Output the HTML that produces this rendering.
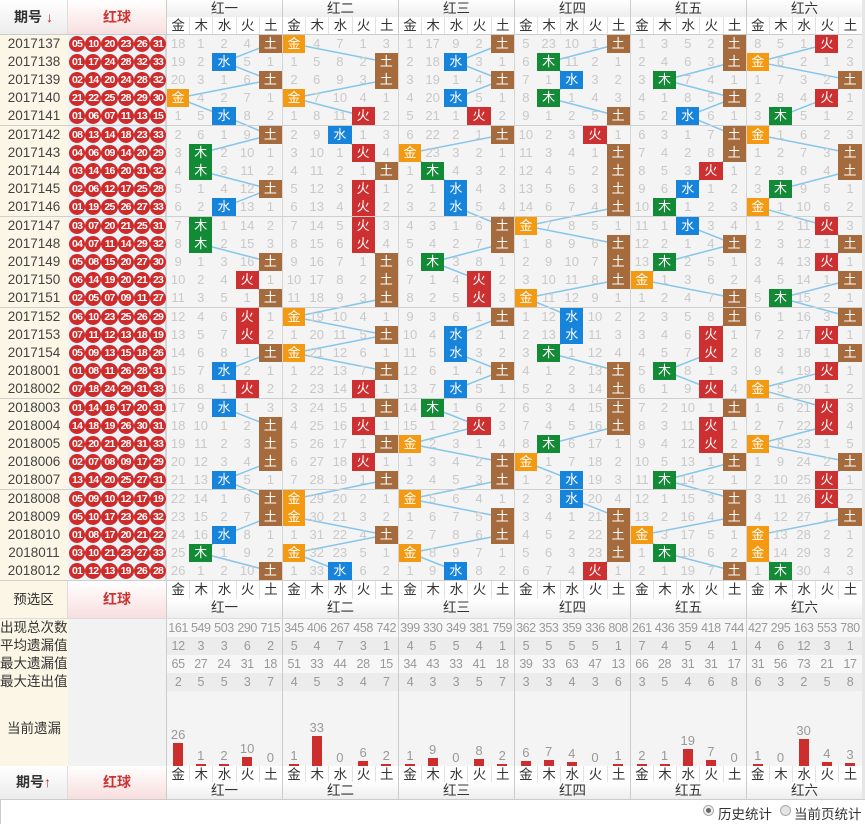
<!DOCTYPE html>
<html><head><meta charset="utf-8"><style>
body{margin:0;width:865px;height:824px;position:relative;background:#fff;font-family:"Liberation Sans","Noto Sans CJK SC",sans-serif;overflow:hidden}
.A{position:absolute}
.r{position:absolute;left:0;height:18px;display:flex;z-index:2}
.n{width:68px;flex:none;text-align:center;font-size:13.5px;color:#444;line-height:18px}
.q{width:98px;flex:none;display:flex;padding-left:1px;box-sizing:border-box}
.q u{width:16.2px;height:16px;margin-top:1px;border-radius:50%;background:#cf2b2b;color:#fff;font-size:10.5px;font-weight:bold;line-height:16px;text-align:center;text-decoration:none;letter-spacing:-0.8px;flex:none;overflow:hidden}
.r i,.r b{width:23.2px;flex:none;height:18px;line-height:18px;text-align:center;font-style:normal;font-weight:normal;font-size:13px;color:#c9c9c9;box-sizing:border-box}
.r b{color:#fff}
.a{background:#f39a12}.b{background:#138a36}.c{background:#1784db}.d{background:#cc3030}.e{background:#a56b3d}
.r>:nth-child(5n+3){border-left:1px solid #d5d5d5}
.s{position:absolute;left:166px;display:flex;height:18px}
.s i{width:23.2px;flex:none;font-style:normal;text-align:center;font-size:13.5px;color:#333;line-height:18px;border-left:1px solid #e2e2e2;box-sizing:border-box;background:#fff}
.s i:nth-child(5n+1){border-left:1px solid #ccc}
.g{position:absolute;left:166px;display:flex;height:18px}
.g i{width:116px;flex:none;font-style:normal;text-align:center;font-size:13.5px;color:#333;line-height:18px;border-left:1px solid #ccc;box-sizing:border-box;background:linear-gradient(#fff,#eeeeee)}
.t{position:absolute;left:166px;display:flex;height:18px}
.t i{width:23.2px;flex:none;font-style:normal;text-align:center;font-size:12.5px;letter-spacing:-0.4px;color:#999;line-height:18px}
.t i:nth-child(5n+1){border-left:1px solid #ccc;box-sizing:border-box}
.lab{position:absolute;left:0;width:68px;font-size:13.5px;color:#333;line-height:18px;background:#fbf6e6}
.bars{position:absolute;left:166px;top:690px;height:76px;display:flex}
.bars div{width:23.2px;flex:none;display:flex;flex-direction:column;justify-content:flex-end;align-items:center;font-size:13px;color:#999;box-sizing:border-box}
.bars div:nth-child(5n+1){border-left:1px solid #ccc}
.bars s{display:block;width:10px;background:#cc2e2e;margin-top:1px}
.sep{position:absolute;left:0;width:862px;height:1px;background:#cfcfcf;z-index:3}
</style></head><body>
<!-- backgrounds -->
<div class="A" style="left:0;top:35px;width:68px;height:545px;background:#fbf6e6"></div>
<div class="A" style="left:68px;top:35px;width:98px;height:545px;background:#edf2f6;border-right:1px solid #d5d5d5;box-sizing:border-box"></div>
<div class="A" style="left:166px;top:35px;width:699px;height:545px;background:#f4f4f4"></div>
<div class="A" style="left:862px;top:0;width:3px;height:800px;background:#e6e6e6"></div>

<!-- header -->
<div class="A" style="left:0;top:0;width:68px;height:35px;background:linear-gradient(#fff,#ececec);border-right:1px solid #ddd;box-sizing:border-box;text-align:center;line-height:35px;font-size:14px;font-weight:bold;color:#333">期号 <span style="color:#d22">↓</span></div>
<div class="A" style="left:68px;top:0;width:98px;height:35px;background:linear-gradient(#fff,#f8dede);text-align:center;line-height:35px;font-size:14px;font-weight:bold;color:#c33">红球</div>
<div class="g" style="top:0;height:17px"><i>红一</i><i>红二</i><i>红三</i><i>红四</i><i>红五</i><i>红六</i></div>
<div class="s" style="top:17px"><i>金</i><i>木</i><i>水</i><i>火</i><i>土</i><i>金</i><i>木</i><i>水</i><i>火</i><i>土</i><i>金</i><i>木</i><i>水</i><i>火</i><i>土</i><i>金</i><i>木</i><i>水</i><i>火</i><i>土</i><i>金</i><i>木</i><i>水</i><i>火</i><i>土</i><i>金</i><i>木</i><i>水</i><i>火</i><i>土</i></div>
<div class="sep" style="top:34px;background:#ccc"></div>

<!-- lines -->
<svg class="A" style="left:0;top:0;z-index:1" width="865" height="824">
<g fill="none" stroke="#86c6ea" stroke-width="1.5">
<polyline transform="translate(166,0)" points="104,44 58,62 104,80 12,98 58,116 104,135 35,153 35,171 104,189 58,207 35,226 35,244 104,262 81,280 104,298 81,317 81,335 104,353 58,371 81,389 58,408 104,426 104,444 104,462 58,480 104,499 104,517 58,535 35,553 104,571"/>
<polyline transform="translate(282,0)" points="12,44 104,62 104,80 12,98 81,116 58,135 81,153 104,171 81,189 81,207 81,226 81,244 104,262 104,280 104,298 12,317 104,335 12,353 104,371 81,389 104,408 81,426 104,444 81,462 104,480 12,499 12,517 104,535 12,553 58,571"/>
<polyline transform="translate(398,0)" points="104,44 58,62 104,80 58,98 81,116 104,135 12,153 35,171 58,189 58,207 104,226 104,244 35,262 81,280 81,298 104,317 58,335 58,353 104,371 58,389 35,408 81,426 12,444 104,462 104,480 12,499 104,517 104,535 12,553 58,571"/>
<polyline transform="translate(514,0)" points="104,44 35,62 58,80 35,98 104,116 81,135 104,153 104,171 104,189 104,207 12,226 104,244 104,262 104,280 12,298 58,317 58,335 35,353 104,371 104,389 104,408 104,426 35,444 12,462 58,480 58,499 104,517 104,535 104,553 81,571"/>
<polyline transform="translate(630,0)" points="104,44 104,62 35,80 104,98 58,116 104,135 104,153 81,171 58,189 35,207 58,226 104,244 35,262 12,280 104,298 104,317 81,335 81,353 35,371 81,389 104,408 81,426 81,444 104,462 35,480 104,499 104,517 12,535 35,553 104,571"/>
<polyline transform="translate(746,0)" points="81,44 12,62 104,80 81,98 35,116 12,135 104,153 104,171 35,189 12,207 81,226 104,244 81,262 104,280 35,298 104,317 81,335 104,353 81,371 12,389 81,408 81,426 12,444 104,462 81,480 81,499 104,517 12,535 12,553 35,571"/>
</g></svg>

<!-- rows -->
<div class="r" style="top:35px"><div class="n">2017137</div><div class="q"><u>05</u><u>10</u><u>20</u><u>23</u><u>26</u><u>31</u></div><i>18</i><i>1</i><i>2</i><i>4</i><b class="e">土</b><b class="a">金</b><i>4</i><i>7</i><i>1</i><i>3</i><i>1</i><i>17</i><i>9</i><i>2</i><b class="e">土</b><i>5</i><i>23</i><i>10</i><i>1</i><b class="e">土</b><i>1</i><i>3</i><i>5</i><i>2</i><b class="e">土</b><i>8</i><i>5</i><i>1</i><b class="d">火</b><i>2</i></div>
<div class="r" style="top:53px"><div class="n">2017138</div><div class="q"><u>01</u><u>17</u><u>24</u><u>28</u><u>32</u><u>33</u></div><i>19</i><i>2</i><b class="c">水</b><i>5</i><i>1</i><i>1</i><i>5</i><i>8</i><i>2</i><b class="e">土</b><i>2</i><i>18</i><b class="c">水</b><i>3</i><i>1</i><i>6</i><b class="b">木</b><i>11</i><i>2</i><i>1</i><i>2</i><i>4</i><i>6</i><i>3</i><b class="e">土</b><b class="a">金</b><i>6</i><i>2</i><i>1</i><i>3</i></div>
<div class="r" style="top:71px"><div class="n">2017139</div><div class="q"><u>02</u><u>14</u><u>20</u><u>24</u><u>28</u><u>32</u></div><i>20</i><i>3</i><i>1</i><i>6</i><b class="e">土</b><i>2</i><i>6</i><i>9</i><i>3</i><b class="e">土</b><i>3</i><i>19</i><i>1</i><i>4</i><b class="e">土</b><i>7</i><i>1</i><b class="c">水</b><i>3</i><i>2</i><i>3</i><b class="b">木</b><i>7</i><i>4</i><i>1</i><i>1</i><i>7</i><i>3</i><i>2</i><b class="e">土</b></div>
<div class="r" style="top:89px"><div class="n">2017140</div><div class="q"><u>21</u><u>22</u><u>25</u><u>28</u><u>29</u><u>30</u></div><b class="a">金</b><i>4</i><i>2</i><i>7</i><i>1</i><b class="a">金</b><i>7</i><i>10</i><i>4</i><i>1</i><i>4</i><i>20</i><b class="c">水</b><i>5</i><i>1</i><i>8</i><b class="b">木</b><i>1</i><i>4</i><i>3</i><i>4</i><i>1</i><i>8</i><i>5</i><b class="e">土</b><i>2</i><i>8</i><i>4</i><b class="d">火</b><i>1</i></div>
<div class="r" style="top:107px"><div class="n">2017141</div><div class="q"><u>01</u><u>06</u><u>07</u><u>11</u><u>13</u><u>15</u></div><i>1</i><i>5</i><b class="c">水</b><i>8</i><i>2</i><i>1</i><i>8</i><i>11</i><b class="d">火</b><i>2</i><i>5</i><i>21</i><i>1</i><b class="d">火</b><i>2</i><i>9</i><i>1</i><i>2</i><i>5</i><b class="e">土</b><i>5</i><i>2</i><b class="c">水</b><i>6</i><i>1</i><i>3</i><b class="b">木</b><i>5</i><i>1</i><i>2</i></div>
<div class="sep" style="top:125px"></div>
<div class="r" style="top:126px"><div class="n">2017142</div><div class="q"><u>08</u><u>13</u><u>14</u><u>18</u><u>23</u><u>33</u></div><i>2</i><i>6</i><i>1</i><i>9</i><b class="e">土</b><i>2</i><i>9</i><b class="c">水</b><i>1</i><i>3</i><i>6</i><i>22</i><i>2</i><i>1</i><b class="e">土</b><i>10</i><i>2</i><i>3</i><b class="d">火</b><i>1</i><i>6</i><i>3</i><i>1</i><i>7</i><b class="e">土</b><b class="a">金</b><i>1</i><i>6</i><i>2</i><i>3</i></div>
<div class="r" style="top:144px"><div class="n">2017143</div><div class="q"><u>04</u><u>06</u><u>09</u><u>14</u><u>20</u><u>29</u></div><i>3</i><b class="b">木</b><i>2</i><i>10</i><i>1</i><i>3</i><i>10</i><i>1</i><b class="d">火</b><i>4</i><b class="a">金</b><i>23</i><i>3</i><i>2</i><i>1</i><i>11</i><i>3</i><i>4</i><i>1</i><b class="e">土</b><i>7</i><i>4</i><i>2</i><i>8</i><b class="e">土</b><i>1</i><i>2</i><i>7</i><i>3</i><b class="e">土</b></div>
<div class="r" style="top:162px"><div class="n">2017144</div><div class="q"><u>03</u><u>14</u><u>16</u><u>20</u><u>31</u><u>32</u></div><i>4</i><b class="b">木</b><i>3</i><i>11</i><i>2</i><i>4</i><i>11</i><i>2</i><i>1</i><b class="e">土</b><i>1</i><b class="b">木</b><i>4</i><i>3</i><i>2</i><i>12</i><i>4</i><i>5</i><i>2</i><b class="e">土</b><i>8</i><i>5</i><i>3</i><b class="d">火</b><i>1</i><i>2</i><i>3</i><i>8</i><i>4</i><b class="e">土</b></div>
<div class="r" style="top:180px"><div class="n">2017145</div><div class="q"><u>02</u><u>06</u><u>12</u><u>17</u><u>25</u><u>28</u></div><i>5</i><i>1</i><i>4</i><i>12</i><b class="e">土</b><i>5</i><i>12</i><i>3</i><b class="d">火</b><i>1</i><i>2</i><i>1</i><b class="c">水</b><i>4</i><i>3</i><i>13</i><i>5</i><i>6</i><i>3</i><b class="e">土</b><i>9</i><i>6</i><b class="c">水</b><i>1</i><i>2</i><i>3</i><b class="b">木</b><i>9</i><i>5</i><i>1</i></div>
<div class="r" style="top:198px"><div class="n">2017146</div><div class="q"><u>01</u><u>19</u><u>25</u><u>26</u><u>27</u><u>33</u></div><i>6</i><i>2</i><b class="c">水</b><i>13</i><i>1</i><i>6</i><i>13</i><i>4</i><b class="d">火</b><i>2</i><i>3</i><i>2</i><b class="c">水</b><i>5</i><i>4</i><i>14</i><i>6</i><i>7</i><i>4</i><b class="e">土</b><i>10</i><b class="b">木</b><i>1</i><i>2</i><i>3</i><b class="a">金</b><i>1</i><i>10</i><i>6</i><i>2</i></div>
<div class="sep" style="top:216px"></div>
<div class="r" style="top:217px"><div class="n">2017147</div><div class="q"><u>03</u><u>07</u><u>20</u><u>21</u><u>25</u><u>31</u></div><i>7</i><b class="b">木</b><i>1</i><i>14</i><i>2</i><i>7</i><i>14</i><i>5</i><b class="d">火</b><i>3</i><i>4</i><i>3</i><i>1</i><i>6</i><b class="e">土</b><b class="a">金</b><i>7</i><i>8</i><i>5</i><i>1</i><i>11</i><i>1</i><b class="c">水</b><i>3</i><i>4</i><i>1</i><i>2</i><i>11</i><b class="d">火</b><i>3</i></div>
<div class="r" style="top:235px"><div class="n">2017148</div><div class="q"><u>04</u><u>07</u><u>11</u><u>14</u><u>29</u><u>32</u></div><i>8</i><b class="b">木</b><i>2</i><i>15</i><i>3</i><i>8</i><i>15</i><i>6</i><b class="d">火</b><i>4</i><i>5</i><i>4</i><i>2</i><i>7</i><b class="e">土</b><i>1</i><i>8</i><i>9</i><i>6</i><b class="e">土</b><i>12</i><i>2</i><i>1</i><i>4</i><b class="e">土</b><i>2</i><i>3</i><i>12</i><i>1</i><b class="e">土</b></div>
<div class="r" style="top:253px"><div class="n">2017149</div><div class="q"><u>05</u><u>08</u><u>15</u><u>20</u><u>27</u><u>30</u></div><i>9</i><i>1</i><i>3</i><i>16</i><b class="e">土</b><i>9</i><i>16</i><i>7</i><i>1</i><b class="e">土</b><i>6</i><b class="b">木</b><i>3</i><i>8</i><i>1</i><i>2</i><i>9</i><i>10</i><i>7</i><b class="e">土</b><i>13</i><b class="b">木</b><i>2</i><i>5</i><i>1</i><i>3</i><i>4</i><i>13</i><b class="d">火</b><i>1</i></div>
<div class="r" style="top:271px"><div class="n">2017150</div><div class="q"><u>06</u><u>14</u><u>19</u><u>20</u><u>21</u><u>23</u></div><i>10</i><i>2</i><i>4</i><b class="d">火</b><i>1</i><i>10</i><i>17</i><i>8</i><i>2</i><b class="e">土</b><i>7</i><i>1</i><i>4</i><b class="d">火</b><i>2</i><i>3</i><i>10</i><i>11</i><i>8</i><b class="e">土</b><b class="a">金</b><i>1</i><i>3</i><i>6</i><i>2</i><i>4</i><i>5</i><i>14</i><i>1</i><b class="e">土</b></div>
<div class="r" style="top:289px"><div class="n">2017151</div><div class="q"><u>02</u><u>05</u><u>07</u><u>09</u><u>11</u><u>27</u></div><i>11</i><i>3</i><i>5</i><i>1</i><b class="e">土</b><i>11</i><i>18</i><i>9</i><i>3</i><b class="e">土</b><i>8</i><i>2</i><i>5</i><b class="d">火</b><i>3</i><b class="a">金</b><i>11</i><i>12</i><i>9</i><i>1</i><i>1</i><i>2</i><i>4</i><i>7</i><b class="e">土</b><i>5</i><b class="b">木</b><i>15</i><i>2</i><i>1</i></div>
<div class="sep" style="top:307px"></div>
<div class="r" style="top:308px"><div class="n">2017152</div><div class="q"><u>06</u><u>10</u><u>23</u><u>25</u><u>26</u><u>29</u></div><i>12</i><i>4</i><i>6</i><b class="d">火</b><i>1</i><b class="a">金</b><i>19</i><i>10</i><i>4</i><i>1</i><i>9</i><i>3</i><i>6</i><i>1</i><b class="e">土</b><i>1</i><i>12</i><b class="c">水</b><i>10</i><i>2</i><i>2</i><i>3</i><i>5</i><i>8</i><b class="e">土</b><i>6</i><i>1</i><i>16</i><i>3</i><b class="e">土</b></div>
<div class="r" style="top:326px"><div class="n">2017153</div><div class="q"><u>07</u><u>11</u><u>12</u><u>13</u><u>18</u><u>19</u></div><i>13</i><i>5</i><i>7</i><b class="d">火</b><i>2</i><i>1</i><i>20</i><i>11</i><i>5</i><b class="e">土</b><i>10</i><i>4</i><b class="c">水</b><i>2</i><i>1</i><i>2</i><i>13</i><b class="c">水</b><i>11</i><i>3</i><i>3</i><i>4</i><i>6</i><b class="d">火</b><i>1</i><i>7</i><i>2</i><i>17</i><b class="d">火</b><i>1</i></div>
<div class="r" style="top:344px"><div class="n">2017154</div><div class="q"><u>05</u><u>09</u><u>13</u><u>15</u><u>18</u><u>26</u></div><i>14</i><i>6</i><i>8</i><i>1</i><b class="e">土</b><b class="a">金</b><i>21</i><i>12</i><i>6</i><i>1</i><i>11</i><i>5</i><b class="c">水</b><i>3</i><i>2</i><i>3</i><b class="b">木</b><i>1</i><i>12</i><i>4</i><i>4</i><i>5</i><i>7</i><b class="d">火</b><i>2</i><i>8</i><i>3</i><i>18</i><i>1</i><b class="e">土</b></div>
<div class="r" style="top:362px"><div class="n">2018001</div><div class="q"><u>01</u><u>08</u><u>11</u><u>26</u><u>28</u><u>31</u></div><i>15</i><i>7</i><b class="c">水</b><i>2</i><i>1</i><i>1</i><i>22</i><i>13</i><i>7</i><b class="e">土</b><i>12</i><i>6</i><i>1</i><i>4</i><b class="e">土</b><i>4</i><i>1</i><i>2</i><i>13</i><b class="e">土</b><i>5</i><b class="b">木</b><i>8</i><i>1</i><i>3</i><i>9</i><i>4</i><i>19</i><b class="d">火</b><i>1</i></div>
<div class="r" style="top:380px"><div class="n">2018002</div><div class="q"><u>07</u><u>18</u><u>24</u><u>29</u><u>31</u><u>33</u></div><i>16</i><i>8</i><i>1</i><b class="d">火</b><i>2</i><i>2</i><i>23</i><i>14</i><b class="d">火</b><i>1</i><i>13</i><i>7</i><b class="c">水</b><i>5</i><i>1</i><i>5</i><i>2</i><i>3</i><i>14</i><b class="e">土</b><i>6</i><i>1</i><i>9</i><b class="d">火</b><i>4</i><b class="a">金</b><i>5</i><i>20</i><i>1</i><i>2</i></div>
<div class="sep" style="top:398px"></div>
<div class="r" style="top:399px"><div class="n">2018003</div><div class="q"><u>01</u><u>14</u><u>16</u><u>17</u><u>20</u><u>31</u></div><i>17</i><i>9</i><b class="c">水</b><i>1</i><i>3</i><i>3</i><i>24</i><i>15</i><i>1</i><b class="e">土</b><i>14</i><b class="b">木</b><i>1</i><i>6</i><i>2</i><i>6</i><i>3</i><i>4</i><i>15</i><b class="e">土</b><i>7</i><i>2</i><i>10</i><i>1</i><b class="e">土</b><i>1</i><i>6</i><i>21</i><b class="d">火</b><i>3</i></div>
<div class="r" style="top:417px"><div class="n">2018004</div><div class="q"><u>14</u><u>18</u><u>19</u><u>26</u><u>30</u><u>31</u></div><i>18</i><i>10</i><i>1</i><i>2</i><b class="e">土</b><i>4</i><i>25</i><i>16</i><b class="d">火</b><i>1</i><i>15</i><i>1</i><i>2</i><b class="d">火</b><i>3</i><i>7</i><i>4</i><i>5</i><i>16</i><b class="e">土</b><i>8</i><i>3</i><i>11</i><b class="d">火</b><i>1</i><i>2</i><i>7</i><i>22</i><b class="d">火</b><i>4</i></div>
<div class="r" style="top:435px"><div class="n">2018005</div><div class="q"><u>02</u><u>20</u><u>21</u><u>28</u><u>31</u><u>33</u></div><i>19</i><i>11</i><i>2</i><i>3</i><b class="e">土</b><i>5</i><i>26</i><i>17</i><i>1</i><b class="e">土</b><b class="a">金</b><i>2</i><i>3</i><i>1</i><i>4</i><i>8</i><b class="b">木</b><i>6</i><i>17</i><i>1</i><i>9</i><i>4</i><i>12</i><b class="d">火</b><i>2</i><b class="a">金</b><i>8</i><i>23</i><i>1</i><i>5</i></div>
<div class="r" style="top:453px"><div class="n">2018006</div><div class="q"><u>02</u><u>07</u><u>08</u><u>09</u><u>17</u><u>29</u></div><i>20</i><i>12</i><i>3</i><i>4</i><b class="e">土</b><i>6</i><i>27</i><i>18</i><b class="d">火</b><i>1</i><i>1</i><i>3</i><i>4</i><i>2</i><b class="e">土</b><b class="a">金</b><i>1</i><i>7</i><i>18</i><i>2</i><i>10</i><i>5</i><i>13</i><i>1</i><b class="e">土</b><i>1</i><i>9</i><i>24</i><i>2</i><b class="e">土</b></div>
<div class="r" style="top:471px"><div class="n">2018007</div><div class="q"><u>13</u><u>14</u><u>20</u><u>25</u><u>27</u><u>31</u></div><i>21</i><i>13</i><b class="c">水</b><i>5</i><i>1</i><i>7</i><i>28</i><i>19</i><i>1</i><b class="e">土</b><i>2</i><i>4</i><i>5</i><i>3</i><b class="e">土</b><i>1</i><i>2</i><b class="c">水</b><i>19</i><i>3</i><i>11</i><b class="b">木</b><i>14</i><i>2</i><i>1</i><i>2</i><i>10</i><i>25</i><b class="d">火</b><i>1</i></div>
<div class="sep" style="top:489px"></div>
<div class="r" style="top:490px"><div class="n">2018008</div><div class="q"><u>05</u><u>09</u><u>10</u><u>12</u><u>17</u><u>19</u></div><i>22</i><i>14</i><i>1</i><i>6</i><b class="e">土</b><b class="a">金</b><i>29</i><i>20</i><i>2</i><i>1</i><b class="a">金</b><i>5</i><i>6</i><i>4</i><i>1</i><i>2</i><i>3</i><b class="c">水</b><i>20</i><i>4</i><i>12</i><i>1</i><i>15</i><i>3</i><b class="e">土</b><i>3</i><i>11</i><i>26</i><b class="d">火</b><i>2</i></div>
<div class="r" style="top:508px"><div class="n">2018009</div><div class="q"><u>05</u><u>10</u><u>17</u><u>23</u><u>26</u><u>32</u></div><i>23</i><i>15</i><i>2</i><i>7</i><b class="e">土</b><b class="a">金</b><i>30</i><i>21</i><i>3</i><i>2</i><i>1</i><i>6</i><i>7</i><i>5</i><b class="e">土</b><i>3</i><i>4</i><i>1</i><i>21</i><b class="e">土</b><i>13</i><i>2</i><i>16</i><i>4</i><b class="e">土</b><i>4</i><i>12</i><i>27</i><i>1</i><b class="e">土</b></div>
<div class="r" style="top:526px"><div class="n">2018010</div><div class="q"><u>01</u><u>08</u><u>17</u><u>20</u><u>21</u><u>22</u></div><i>24</i><i>16</i><b class="c">水</b><i>8</i><i>1</i><i>1</i><i>31</i><i>22</i><i>4</i><b class="e">土</b><i>2</i><i>7</i><i>8</i><i>6</i><b class="e">土</b><i>4</i><i>5</i><i>2</i><i>22</i><b class="e">土</b><b class="a">金</b><i>3</i><i>17</i><i>5</i><i>1</i><b class="a">金</b><i>13</i><i>28</i><i>2</i><i>1</i></div>
<div class="r" style="top:544px"><div class="n">2018011</div><div class="q"><u>03</u><u>10</u><u>21</u><u>23</u><u>27</u><u>33</u></div><i>25</i><b class="b">木</b><i>1</i><i>9</i><i>2</i><b class="a">金</b><i>32</i><i>23</i><i>5</i><i>1</i><b class="a">金</b><i>8</i><i>9</i><i>7</i><i>1</i><i>5</i><i>6</i><i>3</i><i>23</i><b class="e">土</b><i>1</i><b class="b">木</b><i>18</i><i>6</i><i>2</i><b class="a">金</b><i>14</i><i>29</i><i>3</i><i>2</i></div>
<div class="r" style="top:562px"><div class="n">2018012</div><div class="q"><u>01</u><u>12</u><u>13</u><u>19</u><u>26</u><u>28</u></div><i>26</i><i>1</i><i>2</i><i>10</i><b class="e">土</b><i>1</i><i>33</i><b class="c">水</b><i>6</i><i>2</i><i>1</i><i>9</i><b class="c">水</b><i>8</i><i>2</i><i>6</i><i>7</i><i>4</i><b class="d">火</b><i>1</i><i>2</i><i>1</i><i>19</i><i>7</i><b class="e">土</b><i>1</i><b class="b">木</b><i>30</i><i>4</i><i>3</i></div>
<div class="sep" style="top:580px"></div>

<!-- footer: 预选区 -->
<div class="A" style="left:0;top:581px;width:68px;height:37px;background:#fbf6e6;text-align:center;line-height:37px;font-size:13.5px;color:#333;border-right:1px solid #ddd;box-sizing:border-box">预选区</div>
<div class="A" style="left:68px;top:581px;width:98px;height:37px;background:linear-gradient(#fff,#f8dede);text-align:center;line-height:37px;font-size:14px;font-weight:bold;color:#c33">红球</div>
<div class="s" style="top:581px"><i>金</i><i>木</i><i>水</i><i>火</i><i>土</i><i>金</i><i>木</i><i>水</i><i>火</i><i>土</i><i>金</i><i>木</i><i>水</i><i>火</i><i>土</i><i>金</i><i>木</i><i>水</i><i>火</i><i>土</i><i>金</i><i>木</i><i>水</i><i>火</i><i>土</i><i>金</i><i>木</i><i>水</i><i>火</i><i>土</i></div>
<div class="g" style="top:599px;height:19px;line-height:19px"><i>红一</i><i>红二</i><i>红三</i><i>红四</i><i>红五</i><i>红六</i></div>
<div class="sep" style="top:618px;background:#ddd"></div>

<!-- stats -->
<div class="A" style="left:68px;top:619px;width:98px;height:147px;background:#f2f2f2"></div>
<div class="A" style="left:166px;top:619px;width:696px;height:18px;background:#f7f7f7"></div>
<div class="A" style="left:166px;top:637px;width:696px;height:18px;background:#ececec"></div>
<div class="A" style="left:166px;top:655px;width:696px;height:18px;background:#f7f7f7"></div>
<div class="A" style="left:166px;top:673px;width:696px;height:18px;background:#ececec"></div>
<div class="A" style="left:166px;top:691px;width:696px;height:75px;background:#f4f4f4"></div>
<div class="lab" style="top:619px;height:18px">出现总次数</div>
<div class="lab" style="top:637px;height:18px">平均遗漏值</div>
<div class="lab" style="top:655px;height:18px">最大遗漏值</div>
<div class="lab" style="top:673px;height:18px">最大连出值</div>
<div class="lab" style="top:691px;height:75px;line-height:75px;text-align:center">当前遗漏</div>
<div class="t" style="top:619px"><i>161</i><i>549</i><i>503</i><i>290</i><i>715</i><i>345</i><i>406</i><i>267</i><i>458</i><i>742</i><i>399</i><i>330</i><i>349</i><i>381</i><i>759</i><i>362</i><i>353</i><i>359</i><i>336</i><i>808</i><i>261</i><i>436</i><i>359</i><i>418</i><i>744</i><i>427</i><i>295</i><i>163</i><i>553</i><i>780</i></div>
<div class="t" style="top:637px"><i>12</i><i>3</i><i>3</i><i>6</i><i>2</i><i>5</i><i>4</i><i>7</i><i>3</i><i>1</i><i>4</i><i>5</i><i>5</i><i>4</i><i>1</i><i>5</i><i>5</i><i>5</i><i>5</i><i>1</i><i>7</i><i>4</i><i>5</i><i>4</i><i>1</i><i>4</i><i>6</i><i>12</i><i>3</i><i>1</i></div>
<div class="t" style="top:655px"><i>65</i><i>27</i><i>24</i><i>31</i><i>18</i><i>51</i><i>33</i><i>44</i><i>28</i><i>15</i><i>34</i><i>43</i><i>33</i><i>41</i><i>18</i><i>39</i><i>33</i><i>63</i><i>47</i><i>13</i><i>66</i><i>28</i><i>31</i><i>31</i><i>17</i><i>31</i><i>56</i><i>73</i><i>21</i><i>17</i></div>
<div class="t" style="top:673px"><i>2</i><i>5</i><i>5</i><i>3</i><i>7</i><i>4</i><i>5</i><i>3</i><i>4</i><i>7</i><i>4</i><i>3</i><i>3</i><i>5</i><i>7</i><i>3</i><i>3</i><i>4</i><i>3</i><i>6</i><i>3</i><i>5</i><i>4</i><i>6</i><i>8</i><i>6</i><i>3</i><i>2</i><i>5</i><i>8</i></div>
<div class="bars">
<div>26<s style="height:23px"></s></div><div>1<s style="height:2px"></s></div><div>2<s style="height:2px"></s></div><div>10<s style="height:9px"></s></div><div>0<s style="height:0"></s></div>
<div>1<s style="height:2px"></s></div><div>33<s style="height:30px"></s></div><div>0<s style="height:0"></s></div><div>6<s style="height:5px"></s></div><div>2<s style="height:2px"></s></div>
<div>1<s style="height:2px"></s></div><div>9<s style="height:8px"></s></div><div>0<s style="height:0"></s></div><div>8<s style="height:7px"></s></div><div>2<s style="height:2px"></s></div>
<div>6<s style="height:5px"></s></div><div>7<s style="height:6px"></s></div><div>4<s style="height:4px"></s></div><div>0<s style="height:0"></s></div><div>1<s style="height:2px"></s></div>
<div>2<s style="height:2px"></s></div><div>1<s style="height:2px"></s></div><div>19<s style="height:17px"></s></div><div>7<s style="height:6px"></s></div><div>0<s style="height:0"></s></div>
<div>1<s style="height:2px"></s></div><div>0<s style="height:0"></s></div><div>30<s style="height:27px"></s></div><div>4<s style="height:4px"></s></div><div>3<s style="height:3px"></s></div>
</div>

<!-- bottom header -->
<div class="A" style="left:0;top:766px;width:68px;height:33px;background:linear-gradient(#fff,#ececec);border-right:1px solid #ddd;box-sizing:border-box;text-align:center;line-height:33px;font-size:14px;font-weight:bold;color:#333">期号<span style="color:#d22">↑</span></div>
<div class="A" style="left:68px;top:766px;width:98px;height:33px;background:linear-gradient(#fff,#f8dede);text-align:center;line-height:33px;font-size:14px;font-weight:bold;color:#c33">红球</div>
<div class="s" style="top:766px;height:16px"><i>金</i><i>木</i><i>水</i><i>火</i><i>土</i><i>金</i><i>木</i><i>水</i><i>火</i><i>土</i><i>金</i><i>木</i><i>水</i><i>火</i><i>土</i><i>金</i><i>木</i><i>水</i><i>火</i><i>土</i><i>金</i><i>木</i><i>水</i><i>火</i><i>土</i><i>金</i><i>木</i><i>水</i><i>火</i><i>土</i></div>
<div class="g" style="top:782px;height:17px;line-height:17px"><i>红一</i><i>红二</i><i>红三</i><i>红四</i><i>红五</i><i>红六</i></div>
<div class="A" style="left:0;top:799px;width:865px;height:1px;background:#ccc"></div>
<div class="A" style="left:0;top:800px;width:1px;height:24px;background:#ccc"></div>

<!-- radios -->
<div class="A" style="left:703px;top:805px;width:11px;height:11px;border-radius:50%;border:1px solid #aaa;background:#eee;box-sizing:border-box"><div style="width:5px;height:5px;border-radius:50%;background:#666;margin:2px"></div></div>
<div class="A" style="left:718px;top:803px;font-size:13.5px;color:#333">历史统计</div>
<div class="A" style="left:780px;top:805px;width:11px;height:11px;border-radius:50%;border:1px solid #aaa;background:#e4e4e4;box-sizing:border-box"></div>
<div class="A" style="left:794px;top:803px;font-size:13.5px;color:#333">当前页统计</div>
</body></html>
